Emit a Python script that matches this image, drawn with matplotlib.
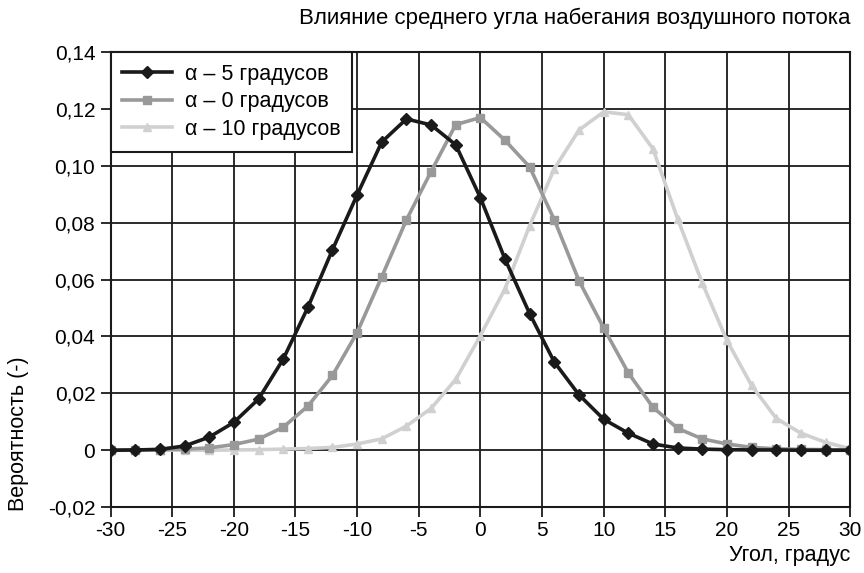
import matplotlib
matplotlib.use("Agg")
import matplotlib.pyplot as plt
from matplotlib.ticker import FixedLocator

plt.rcParams['font.family'] = ['Liberation Sans', 'DejaVu Sans']

angles = list(range(-30, 31, 2))

p_minus5 = [0.0000, 0.0001, 0.0003, 0.0015, 0.0046, 0.0098, 0.0180, 0.0320,
            0.0502, 0.0705, 0.0898, 0.1084, 0.1165, 0.1144, 0.1074, 0.0888,
            0.0672, 0.0480, 0.0310, 0.0195, 0.0109, 0.0060, 0.0022, 0.0008,
            0.0004, 0.0002, 0.0001, 0.0001, 0.0000, 0.0000, 0.0000]
p_0 = [0.0000, 0.0001, 0.0002, 0.0004, 0.0008, 0.0020, 0.0039, 0.0081,
       0.0155, 0.0263, 0.0414, 0.0610, 0.0810, 0.0980, 0.1145, 0.1170,
       0.1090, 0.0996, 0.0810, 0.0596, 0.0430, 0.0272, 0.0151, 0.0077,
       0.0040, 0.0022, 0.0010, 0.0005, 0.0003, 0.0002, 0.0001]
p_10 = [0.0000, 0.0000, 0.0000, 0.0000, 0.0000, 0.0001, 0.0002, 0.0004,
        0.0006, 0.0010, 0.0022, 0.0040, 0.0085, 0.0147, 0.0249, 0.0403,
        0.0568, 0.0790, 0.0990, 0.1126, 0.1190, 0.1180, 0.1060, 0.0814,
        0.0588, 0.0386, 0.0228, 0.0112, 0.0060, 0.0028, 0.0005]

labels = ["α – 5 градусов", "α – 0 градусов", "α – 10 градусов"]
title = "Влияние среднего угла набегания воздушного потока"
xlabel = "Угол, градус"
ylabel = "Вероятность (-)"
xticks = list(range(-30, 31, 5))
yticks = [-0.02, 0.0, 0.02, 0.04, 0.06, 0.08, 0.10, 0.12, 0.14]
yticklabels = ["-0,02", "0", "0,02", "0,04", "0,06", "0,08", "0,10", "0,12", "0,14"]

fig = plt.figure(figsize=(8.64, 5.73), dpi=100)
ax = fig.add_axes([0.128, 0.115, 0.856, 0.794])

ax.plot(angles, p_minus5, color='#1a1a1a', lw=2.6, marker='D', ms=6, label=labels[0], zorder=5)
ax.plot(angles, p_0, color='#999999', lw=2.6, marker='s', ms=5.5, label=labels[1], zorder=4)
ax.plot(angles, p_10, color='#d0d0d0', lw=2.6, marker='^', ms=6, label=labels[2], zorder=3)

ax.set_xlim(-30, 30)
ax.set_ylim(-0.02, 0.14)
ax.xaxis.set_major_locator(FixedLocator(xticks))
ax.set_xticklabels([str(t) for t in xticks])
ax.yaxis.set_major_locator(FixedLocator(yticks))
ax.set_yticklabels(yticklabels)
ax.tick_params(axis='both', labelsize=15, length=7, width=1.3, color='#1a1a1a', direction='out')
ax.tick_params(axis='y', pad=4)
ax.tick_params(axis='x', pad=3)
ax.grid(True, color='#1a1a1a', lw=1.3)
ax.set_axisbelow(True)
for s in ax.spines.values():
    s.set_color('#1a1a1a')
    s.set_linewidth(1.5)

leg = ax.legend(loc='upper left', borderaxespad=0, fontsize=15.5, frameon=True,
                fancybox=False, edgecolor='#1a1a1a', framealpha=1,
                handlelength=2.3, handletextpad=0.6, borderpad=0.55, labelspacing=0.3)
leg.get_frame().set_linewidth(1.5)

fig.text(0.984, 0.968, title, ha='right', va='center', fontsize=16)
fig.text(0.984, 0.031, xlabel, ha='right', va='center', fontsize=15.5)
fig.text(0.021, 0.244, ylabel, ha='center', va='center', rotation=90, fontsize=15.5)

fig.savefig("out.png", dpi=100)
